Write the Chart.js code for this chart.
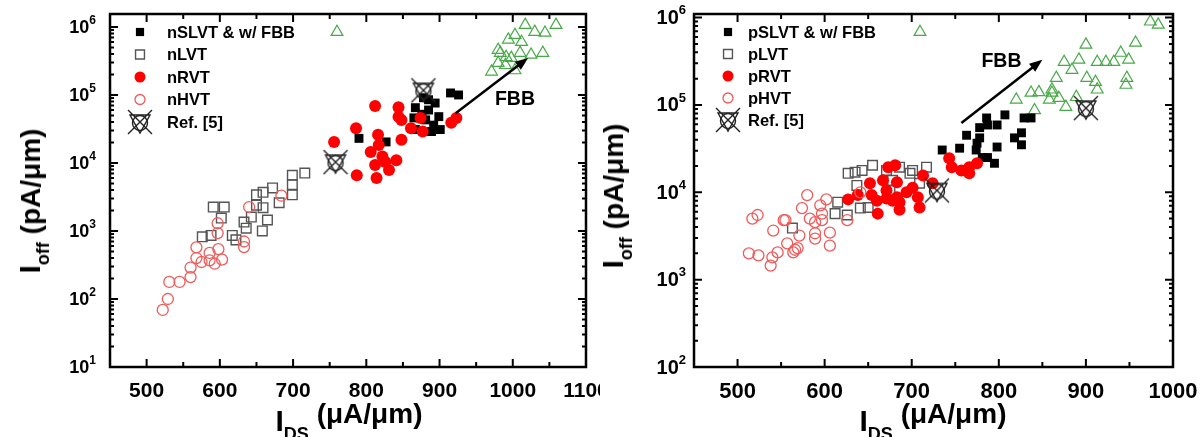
<!DOCTYPE html>
<html>
<head>
<meta charset="utf-8">
<script src="https://cdn.jsdelivr.net/npm/chart.js@4.4.1/dist/chart.umd.min.js"></script>
<style>
  html, body { margin: 0; padding: 0; background: #fff; }
  #wrap { position: relative; width: 1202px; height: 437px; overflow: hidden; }
  canvas { position: absolute; top: 0; }
  .ttl { position: absolute; white-space: nowrap; font-family: "Liberation Sans", Arial, sans-serif;
         font-weight: bold; color: #000; line-height: 1; font-size: 28px; }
  .ttl .big { font-size: 30px; position: relative; }
  .ttl .sub { font-size: 18px; position: relative; }
  .xt { transform: translateX(-50%); }
  .xt .big { top: 8px; }
  .xt .sub { top: 17px; }
  .yt { transform: translate(-50%, -50%) rotate(-90deg); }
  .yt .big { top: 0px; }
  .yt .sub { top: 9px; }
</style>
</head>
<body>
<div id="wrap">
  <canvas id="cN" width="600" height="437" style="left:0"></canvas>
  <canvas id="cP" width="602" height="437" style="left:600px"></canvas>
  <div class="ttl yt" style="left:30px; top:201px"><span class="big">I</span><span class="sub">off</span> (pA/μm)</div>
  <div class="ttl xt" style="left:349px; top:398px"><span class="big">I</span><span class="sub">DS</span> (μA/μm)</div>
  <div class="ttl yt" style="left:613px; top:196px"><span class="big">I</span><span class="sub">off</span> (pA/μm)</div>
  <div class="ttl xt" style="left:933px; top:398px"><span class="big">I</span><span class="sub">DS</span> (μA/μm)</div>
</div>
<script>
/* ---------- données : [I_DS (µA/µm), I_off (pA/µm)] ---------- */

// panneau gauche : nFET
const nSLVT = [[790,23000],[827,20400],[865,46000],[867,31000],[867,65000],[878,91000],[881,43000],
  [885,60000],[889,29000],[892,36000],[894,76000],[899,48000],[915,107000],[926,100000],[901,31000],
  [885,85000],[876,52000]];
const nLVT = [[576,820],[588,860],[591,2250],[606,2250],[602,1550],[617,860],[622,740],[636,1100],
  [633,1350],[643,1600],[650,2400],[650,3400],[659,3700],[659,2200],[665,1450],[658,1000],[672,4300],
  [681,2600],[699,6600],[699,4800],[699,3400],[716,7100]];
const nRVT = [[756,20400],[786,32500],[787,6600],[812,69000],[816,26000],[817,18300],[806,14500],
  [812,9300],[814,6000],[826,10300],[831,7900],[841,11000],[844,66000],[844,48000],[848,22000],
  [848,43000],[861,32500],[874,46000],[877,29000],[916,39000],[923,46000],[822,12500]];
const nHVT = [[522,69],[529,100],[531,178],[545,178],[560,210],[560,290],[568,400],[568,575],[575,350],
  [586,475],[586,370],[593,330],[598,540],[597,930],[597,1300],[603,380],[633,700],[633,580],[640,2250],
  [684,3300]];
const nFBB = [[971,220000],[980,295000],[991,360000],[983,415000],[994,650000],[1003,760000],
  [1012,600000],[1017,1070000],[1010,415000],[998,350000],[1025,390000],[1041,415000],[1030,845000],
  [1044,820000],[1059,1070000],[1003,230000],[990,275000],[980,460000]];
const nRef = [[758,10300],[878,117000]];

// panneau droit : pFET
const pSLVT = [[735,30500],[755,32000],[763,45000],[774,30500],[775,36500],[778,42000],[778,55000],
  [786,71000],[787,59000],[781,25000],[787,25000],[795,21500],[798,33000],[798,59000],[807,77000],
  [818,42000],[826,48000],[826,35000],[829,71000],[837,71000]];
const pLVT = [[563,3900],[612,5700],[615,7700],[627,16500],[635,17000],[643,17800],[655,20400],
  [637,12000],[641,6600],[650,6700],[675,10500],[671,17800],[686,19400],[701,17800],[717,19400],
  [709,12700],[678,13700],[698,16500],[626,5500]];
const pRVT = [[627,8300],[638,9300],[652,12700],[654,9300],[660,8000],[661,5700],[667,13700],
  [673,19400],[681,20400],[671,8500],[678,8000],[683,13000],[686,7700],[694,10000],[701,11300],
  [683,8800],[707,8800],[713,15600],[724,12700],[743,24500],[746,19400],[757,17800],[766,19400],
  [775,21500],[766,16500],[709,6700],[686,6300],[671,10500]];
const pHVT = [[517,5000],[523,5500],[513,2000],[524,1900],[538,1450],[540,1800],[546,2050],[541,3650],
  [553,4800],[557,2600],[564,2050],[569,2300],[571,3200],[574,6600],[583,5000],[589,4550],[589,3400],
  [589,2950],[597,5700],[606,3450],[606,2450],[626,4800],[580,9300],[595,7100],[602,8300],[641,10000],
  [555,4800],[566,2200],[597,4800]];
const pFBB = [[820,115000],[841,87000],[837,138000],[846,140000],[861,138000],[866,204000],[861,150000],
  [875,310000],[877,95000],[884,252000],[892,330000],[889,123000],[900,490000],[901,204000],[913,150000],
  [911,183000],[913,310000],[923,310000],[932,310000],[940,395000],[949,330000],[957,515000],[947,204000],
  [946,170000],[974,900000],[983,830000],[858,115000],[869,120000]];
const pRef = [[729,10500],[900,92000]];

// axes
const nXTicks = [500, 600, 700, 800, 900, 1000, 1100];
const nXMinor = [550, 650, 750, 850, 950, 1050];
const pXTicks = [500, 600, 700, 800, 900, 1000];
const pXMinor = [550, 650, 750, 850, 950];
const nYDecades = [10, 100, 1000, 10000, 100000, 1000000];
const pYDecades = [100, 1000, 10000, 100000, 1000000];

// légendes + flèche FBB (départ, arrivée, position du texte)
const nLegend = ['nSLVT & w/ FBB', 'nLVT', 'nRVT', 'nHVT', 'Ref. [5]'];
const pLegend = ['pSLVT & w/ FBB', 'pLVT', 'pRVT', 'pHVT', 'Ref. [5]'];
const nArrow = [[922, 54000], [1021, 350000]];
const nArrowText = [1003, 84000];
const pArrow = [[757, 62000], [850, 329000]];
const pArrowText = [803, 312000];

/* ---------- symboles ---------- */
const FONT = '"Liberation Sans", Arial, sans-serif';

// symbole "Ref. [5]" : X + cercle + triangle inversé
const refMarker = (() => {
  const c = document.createElement('canvas');
  c.width = 28; c.height = 28;
  const g = c.getContext('2d');
  g.strokeStyle = '#222';
  g.lineWidth = 1.4;
  g.beginPath();
  g.moveTo(2, 2); g.lineTo(26, 26);
  g.moveTo(26, 2); g.lineTo(2, 26);
  g.moveTo(4, 7); g.lineTo(24, 7); g.lineTo(14, 25); g.closePath();
  g.stroke();
  g.beginPath();
  g.arc(14, 15, 7.5, 0, Math.PI * 2);
  g.stroke();
  return c;
})();

const STY = {
  slvt: { pointStyle: 'rect', pointRadius: 6.3, backgroundColor: '#000', borderColor: '#000', borderWidth: 0 },
  lvt:  { pointStyle: 'rect', pointRadius: 6.8, backgroundColor: 'rgba(0,0,0,0)', borderColor: '#555', borderWidth: 1.4 },
  rvt:  { pointStyle: 'circle', pointRadius: 6, backgroundColor: '#ff0000', borderColor: '#ff0000', borderWidth: 0 },
  hvt:  { pointStyle: 'circle', pointRadius: 5.5, backgroundColor: 'rgba(0,0,0,0)', borderColor: '#f05a5a', borderWidth: 1.3 },
  fbb:  { pointStyle: 'triangle', pointRadius: 6.8, backgroundColor: 'rgba(0,0,0,0)', borderColor: '#47a947', borderWidth: 1.2 },
  ref:  { pointStyle: refMarker, pointRadius: 14, backgroundColor: 'rgba(0,0,0,0)', borderColor: '#222', borderWidth: 0 }
};

const pts = (arr) => arr.map(([x, y]) => ({ x, y }));

/* ---------- plugin : cadre, graduations internes, étiquettes 10^n ---------- */
const frameTicks = {
  id: 'frameTicks',
  afterDatasetsDraw(chart, args, o) {
    const { ctx, chartArea: a, scales: { x, y } } = chart;
    ctx.save();
    ctx.strokeStyle = '#000';
    ctx.lineWidth = 2;
    ctx.beginPath();
    // x : majeures 8px, mineures 5px, en bas et en haut
    o.xMajor.concat(o.xMinor).forEach((v) => {
      const px = x.getPixelForValue(v);
      const len = o.xMajor.includes(v) ? 8 : 5;
      ctx.moveTo(px, a.bottom); ctx.lineTo(px, a.bottom - len);
      ctx.moveTo(px, a.top); ctx.lineTo(px, a.top + len);
    });
    // y log : décades 8px, mineures 2..9 4px, à gauche et à droite
    const e0 = Math.floor(Math.log10(y.min)), e1 = Math.ceil(Math.log10(y.max));
    for (let e = e0; e <= e1; e++) {
      for (let m = 1; m <= 9; m++) {
        const v = m * Math.pow(10, e);
        if (v < y.min || v > y.max) continue;
        const py = y.getPixelForValue(v);
        const len = m === 1 ? 8 : 4;
        ctx.moveTo(a.left, py); ctx.lineTo(a.left + len, py);
        ctx.moveTo(a.right, py); ctx.lineTo(a.right - len, py);
      }
    }
    ctx.stroke();
    ctx.lineWidth = 2.5;
    ctx.strokeRect(a.left, a.top, a.right - a.left, a.bottom - a.top);

    // étiquettes 10^n
    ctx.fillStyle = '#000';
    ctx.textBaseline = 'middle';
    ctx.textAlign = 'right';
    o.yDecades.forEach((v) => {
      const py = y.getPixelForValue(v);
      const ex = String(Math.round(Math.log10(v)));
      ctx.font = `bold ${o.expSize}px ${FONT}`;
      const w = ctx.measureText(ex).width;
      ctx.fillText(ex, a.left - o.labelGap, py - o.expRaise);
      ctx.font = `bold ${o.baseSize}px ${FONT}`;
      ctx.fillText('10', a.left - o.labelGap - w, py + 1);
    });
    ctx.restore();
  }
};

/* ---------- plugin : légende interne + flèche FBB ---------- */
const panelNotes = {
  id: 'panelNotes',
  afterDatasetsDraw(chart, args, o) {
    const { ctx, chartArea: a, scales: { x, y } } = chart;
    const H = Chart.helpers;
    ctx.save();
    const keys = ['slvt', 'lvt', 'rvt', 'hvt', 'ref'];
    keys.forEach((k, i) => {
      const s = STY[k];
      const cy = a.top + o.rowTop + i * o.rowStep;
      ctx.fillStyle = s.backgroundColor;
      ctx.strokeStyle = s.borderColor;
      ctx.lineWidth = s.borderWidth;
      const r = k === 'ref' ? 12 : s.pointRadius - 0.5;
      H.drawPoint(ctx, { pointStyle: s.pointStyle, radius: r, borderWidth: s.borderWidth, rotation: 0 },
        a.left + o.markX, cy);
      ctx.fillStyle = '#000';
      ctx.font = `bold 16.5px ${FONT}`;
      ctx.textAlign = 'left';
      ctx.textBaseline = 'middle';
      ctx.fillText(o.labels[i], a.left + o.textX, cy + 1);
    });
    // triangle FBB dans la première ligne
    const f = STY.fbb;
    ctx.fillStyle = f.backgroundColor;
    ctx.strokeStyle = f.borderColor;
    ctx.lineWidth = f.borderWidth;
    H.drawPoint(ctx, { pointStyle: 'triangle', radius: f.pointRadius, borderWidth: f.borderWidth, rotation: 0 },
      a.left + o.triX, a.top + o.rowTop);

    // flèche
    const x0 = x.getPixelForValue(o.arrow[0][0]), y0 = y.getPixelForValue(o.arrow[0][1]);
    const x1 = x.getPixelForValue(o.arrow[1][0]), y1 = y.getPixelForValue(o.arrow[1][1]);
    const ang = Math.atan2(y1 - y0, x1 - x0);
    ctx.strokeStyle = '#000';
    ctx.fillStyle = '#000';
    ctx.lineWidth = 2.5;
    ctx.beginPath();
    ctx.moveTo(x0, y0);
    ctx.lineTo(x1 - 8 * Math.cos(ang), y1 - 8 * Math.sin(ang));
    ctx.stroke();
    ctx.beginPath();
    ctx.moveTo(x1, y1);
    ctx.lineTo(x1 - 13 * Math.cos(ang) + 5 * Math.sin(ang), y1 - 13 * Math.sin(ang) - 5 * Math.cos(ang));
    ctx.lineTo(x1 - 13 * Math.cos(ang) - 5 * Math.sin(ang), y1 - 13 * Math.sin(ang) + 5 * Math.cos(ang));
    ctx.closePath();
    ctx.fill();
    ctx.font = `bold 19.5px ${FONT}`;
    ctx.textAlign = 'center';
    ctx.textBaseline = 'middle';
    ctx.fillText('FBB', x.getPixelForValue(o.text[0]), y.getPixelForValue(o.text[1]));
    ctx.restore();
  }
};

/* ---------- construction d'un panneau ---------- */
window.setupPanel = (canvasId, P) => {
  const el = document.getElementById(canvasId);
  const ds = (data, k) => Object.assign({ data: pts(data), order: 0 }, STY[k]);
  new Chart(el.getContext('2d'), {
    type: 'scatter',
    data: {
      // le premier jeu est dessiné au-dessus
      datasets: [ds(P.ref, 'ref'), ds(P.hvt, 'hvt'), ds(P.rvt, 'rvt'), ds(P.lvt, 'lvt'),
                 ds(P.slvt, 'slvt'), ds(P.fbb, 'fbb')]
    },
    options: {
      responsive: false,
      animation: false,
      events: [],
      layout: { padding: { left: 0, right: P.padRight, top: 14, bottom: 0 } },
      plugins: {
        legend: { display: false },
        tooltip: { enabled: false },
        frameTicks: { xMajor: P.xTicks, xMinor: P.xMinor, yDecades: P.yDecades,
                      baseSize: P.yFont, expSize: P.expFont, expRaise: P.expRaise, labelGap: P.labelGap },
        panelNotes: P.notes
      },
      scales: {
        x: {
          type: 'linear', min: 450, max: P.xMax,
          grid: { display: false, drawTicks: false },
          border: { display: false },
          afterBuildTicks: (s) => { s.ticks = P.xTicks.map((v) => ({ value: v })); },
          afterFit: (s) => { s.height = 70; s.paddingLeft = 0; s.paddingRight = 0; },
          ticks: { color: '#000', padding: 12, maxRotation: 0, autoSkip: false,
                   callback: (v) => String(v),
                   font: { family: FONT, weight: 'bold', size: P.xFont } }
        },
        y: {
          type: 'logarithmic', min: P.yMin, max: P.yMax,
          grid: { display: false, drawTicks: false },
          border: { display: false },
          ticks: { display: false },
          afterFit: (s) => { s.width = P.yWidth; s.paddingTop = 0; s.paddingBottom = 0; }
        }
      }
    },
    plugins: [frameTicks, panelNotes]
  });
};

setupPanel('cN', {
  slvt: nSLVT, lvt: nLVT, rvt: nRVT, hvt: nHVT, fbb: nFBB, ref: nRef,
  xMax: 1100, xTicks: nXTicks, xMinor: nXMinor, yMin: 10, yMax: 1.55e6, yDecades: nYDecades,
  padRight: 12, yWidth: 110, xFont: 21, yFont: 18, expFont: 12, expRaise: 6, labelGap: 14,
  notes: { labels: nLegend, markX: 30, textX: 57, triX: 227, rowTop: 18, rowStep: 22.5,
           arrow: nArrow, text: nArrowText }
});

setupPanel('cP', {
  slvt: pSLVT, lvt: pLVT, rvt: pRVT, hvt: pHVT, fbb: pFBB, ref: pRef,
  xMax: 1000, xTicks: pXTicks, xMinor: pXMinor, yMin: 100, yMax: 1.1e6, yDecades: pYDecades,
  padRight: 29, yWidth: 94, xFont: 22, yFont: 20, expFont: 13, expRaise: 7, labelGap: 8,
  notes: { labels: pLegend, markX: 34, textX: 54, triX: 226, rowTop: 18, rowStep: 22,
           arrow: pArrow, text: pArrowText }
});
</script>
</body>
</html>
